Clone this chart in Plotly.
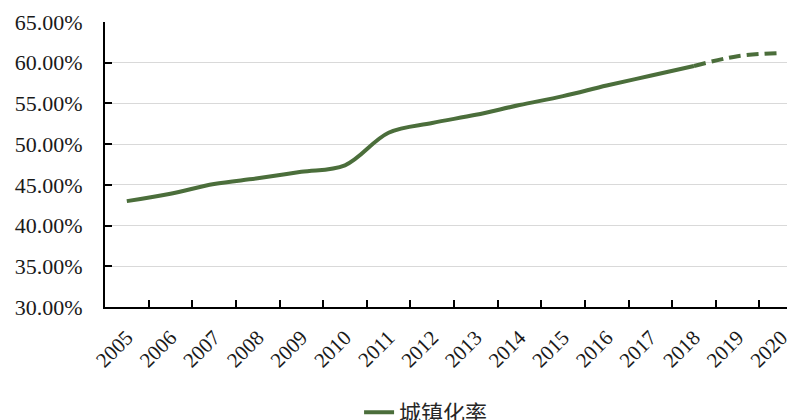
import plotly.graph_objects as go

years = ["2005", "2006", "2007", "2008", "2009", "2010", "2011", "2012",
         "2013", "2014", "2015", "2016", "2017", "2018", "2019", "2020"]
actual = [43.0, 43.9, 45.1, 45.8, 46.6, 47.4, 51.4, 52.6, 53.6, 54.8,
          55.9, 57.2, 58.4, 59.6]
forecast_years = ["2018", "2019", "2020"]
forecast = [59.6, 60.8, 61.2]
series_name = "城镇化率"
y_ticks = [30, 35, 40, 45, 50, 55, 60, 65]
y_tick_text = [f"{v:.2f}%" for v in y_ticks]

color = "#4B6E3B"
serif = "Liberation Serif"

fig = go.Figure()
fig.add_trace(go.Scatter(
    x=years[:len(actual)], y=actual, mode="lines", name=series_name,
    line=dict(color=color, width=4, shape="spline", smoothing=1.0),
))
fig.add_trace(go.Scatter(
    x=forecast_years, y=forecast, mode="lines", showlegend=False,
    line=dict(color=color, width=4, shape="spline", smoothing=1.0, dash="12px,6px"),
))

fig.update_layout(
    width=795, height=420,
    margin=dict(l=97, r=0, t=14, b=121, autoexpand=False),
    plot_bgcolor="white", paper_bgcolor="white",
    showlegend=True,
    legend=dict(
        orientation="h", x=0.364, xanchor="left", y=-0.37, yanchor="middle",
        font=dict(family="Noto Sans CJK SC", size=22, color="#262626"),
        bgcolor="rgba(0,0,0,0)",
    ),
)
fig.update_xaxes(
    type="category", categoryorder="array", categoryarray=years,
    range=[-0.5, 15.5], automargin=False,
    tickson="boundaries", ticks="inside", ticklen=7, tickwidth=2, tickcolor="black",
    showline=True, linecolor="black", linewidth=2,
    showgrid=False, tickangle=-45,
    tickfont=dict(family=serif, size=21, color="#1a1a1a"),
    ticklabelstandoff=8,
)
fig.update_yaxes(
    range=[30, 65], tickvals=y_ticks, ticktext=y_tick_text, automargin=False,
    ticks="inside", ticklen=7, tickwidth=2, tickcolor="black",
    showline=True, linecolor="black", linewidth=2,
    showgrid=True, gridcolor="#D9D9D9", gridwidth=1, zeroline=False,
    tickfont=dict(family=serif, size=22, color="#1a1a1a"),
    ticklabelstandoff=16,
)

fig.write_html("out.html")
